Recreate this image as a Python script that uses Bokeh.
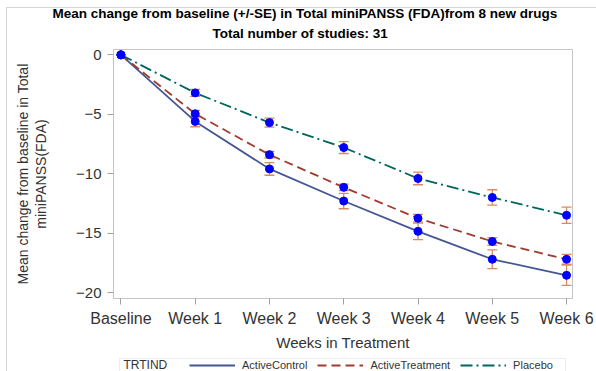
from bokeh.plotting import figure
from bokeh.layouts import column
from bokeh.models import (ColumnDataSource, Whisker, TeeHead, FixedTicker, Legend, LegendItem,
                          Title, Label, BoxAnnotation, LinearAxis, InlineStyleSheet)
from bokeh.embed import file_html
from bokeh.resources import INLINE

weeks = ["Baseline", "Week 1", "Week 2", "Week 3", "Week 4", "Week 5", "Week 6"]
week_num = [0, 1, 2, 3, 4, 5, 6]

active_control = [0.0, -5.6, -9.6, -12.3, -14.85, -17.2, -18.55]
active_control_se = [0.0, 0.45, 0.53, 0.65, 0.7, 0.79, 0.85]

active_treatment = [0.0, -4.96, -8.4, -11.15, -13.75, -15.7, -17.2]
active_treatment_se = [0.0, 0.28, 0.28, 0.28, 0.33, 0.33, 0.42]

placebo = [0.0, -3.2, -5.7, -7.8, -10.4, -12.0, -13.5]
placebo_se = [0.0, 0.3, 0.38, 0.5, 0.53, 0.65, 0.68]

series = [
    ("ActiveControl", active_control, active_control_se, "#445694", "solid"),
    ("ActiveTreatment", active_treatment, active_treatment_se, "#A23A2E", "9 5"),
    ("Placebo", placebo, placebo_se, "#01665E", "12 4 2 4"),
]

FONT = "Liberation Sans"
ERR = "#D88A62"
GRAY = "#c4c4c4"

X0, X1 = -0.1, 6.08
Y0, Y1 = -20.5, 0.45

p = figure(width=596, height=355, output_backend="svg", toolbar_location=None,
           x_range=(X0, X1), y_range=(Y0, Y1),
           min_border_left=113, min_border_right=24, min_border_top=49, min_border_bottom=57)
p.background_fill_color = "white"
p.border_fill_color = "white"
p.outline_line_color = GRAY
p.xgrid.visible = False
p.ygrid.visible = False

# titles
p.title.text = "Mean change from baseline (+/-SE) in Total miniPANSS (FDA)from 8 new drugs"
p.title.align = "left"
p.title.offset = -61
p.title.text_font = FONT
p.title.text_font_size = "13.5px"
p.title.text_font_style = "bold"
p.title.text_color = "#000000"
p.title.standoff = -11
t2 = Title(text="Total number of studies: 31",
           align="left", offset=99, text_font=FONT, text_font_size="13.5px",
           text_font_style="bold", text_color="#000000", standoff=17)
p.add_layout(t2, "above")

for name, vals, se, color, dash in series:
    src = ColumnDataSource(dict(x=week_num, y=vals))
    p.line("x", "y", source=src, line_color=color, line_width=1.8, line_dash=dash)
    n = len(vals)
    esrc = ColumnDataSource(dict(
        x=week_num[1:],
        upper=[vals[i] + se[i] for i in range(1, n)],
        lower=[vals[i] - se[i] for i in range(1, n)],
    ))
    w = Whisker(base="x", upper="upper", lower="lower", source=esrc,
                line_color=ERR, line_width=1.3,
                upper_head=TeeHead(size=10, line_color=ERR, line_width=1.3),
                lower_head=TeeHead(size=10, line_color=ERR, line_width=1.3))
    p.add_layout(w)

for name, vals, se, color, dash in series:
    p.scatter(week_num, vals, size=8, fill_color="#0000FF", line_color="#0000FF")

# axes
p.xaxis.ticker = FixedTicker(ticks=week_num)
p.xaxis.major_label_overrides = {i: lab for i, lab in zip(week_num, weeks)}
p.yaxis.ticker = FixedTicker(ticks=[-20, -15, -10, -5, 0])
for ax in (p.xaxis[0], p.yaxis[0]):
    ax.axis_line_color = GRAY
    ax.major_tick_line_color = "#a0a0a0"
    ax.major_tick_out = 6
    ax.major_tick_in = 0
    ax.minor_tick_line_color = None
    ax.major_label_text_font = FONT
    ax.major_label_text_color = "#333333"
    ax.axis_label_text_font = FONT
    ax.axis_label_text_font_style = "normal"
    ax.axis_label_text_color = "#333333"

p.xaxis.major_label_text_font_size = "16px"
p.xaxis.major_label_standoff = 5
p.xaxis.axis_label = "Weeks in Treatment"
p.xaxis.axis_label_text_font_size = "15px"
p.xaxis.axis_label_standoff = 4

p.yaxis.major_label_text_font_size = "15px"
p.yaxis.major_label_standoff = 6
p.yaxis.axis_label = "miniPANSS(FDA)"
p.yaxis.axis_label_text_font_size = "14px"
p.yaxis.axis_label_standoff = 24

# outer line of the y axis title
ax2 = LinearAxis(ticker=FixedTicker(ticks=[]), axis_label="Mean change from baseline in Total",
                 axis_line_color=None, major_tick_line_color=None, minor_tick_line_color=None,
                 major_tick_out=0, major_tick_in=0, major_label_text_font_size="0px",
                 major_label_standoff=0, axis_label_standoff=0,
                 axis_label_text_font=FONT, axis_label_text_font_size="14px",
                 axis_label_text_font_style="normal", axis_label_text_color="#333333")
p.add_layout(ax2, "left")

# legend strip (frame aligned with the main plot; data units = pixels)
q = figure(width=596, height=16, output_backend="svg", toolbar_location=None,
           x_range=(113, 572), y_range=(0, 16), x_axis_location=None, y_axis_location=None,
           min_border_left=113, min_border_right=24, min_border_top=0, min_border_bottom=0)
q.outline_line_color = None
q.xgrid.visible = False
q.ygrid.visible = False
q.background_fill_color = "white"
q.border_fill_color = "white"

items = []
for name, vals, se, color, dash in series:
    r = q.line(week_num, vals, line_color=color, line_width=1.8, line_dash=dash)
    items.append(LegendItem(label=name, renderers=[r]))

legend = Legend(items=items, orientation="horizontal", location=(76, 0))
legend.label_text_font = FONT
legend.label_text_font_size = "11px"
legend.label_text_color = "#333333"
legend.glyph_width = 46
legend.glyph_height = 12
legend.label_height = 12
legend.label_standoff = 7
legend.spacing = 10
legend.padding = 0
legend.margin = 0
legend.border_line_alpha = 0
legend.background_fill_alpha = 0
q.add_layout(legend)

box = BoxAnnotation(left=119, right=565, top=13, bottom=-5,
                    fill_alpha=0, line_color=GRAY, line_width=1)
q.add_layout(box)
trt = Label(x=123, y=6.5, text="TRTIND", text_font=FONT,
            text_font_size="12px", text_color="#333333", text_baseline="middle")
q.add_layout(trt)

# faint outer border of the whole graphic
outer = InlineStyleSheet(css=""":host::after { content: ""; position: absolute; left: 6px; top: 7px;
  right: 0px; bottom: 0px; border-left: 1px solid #d4d4d4; border-top: 1px solid #d4d4d4;
  pointer-events: none; z-index: 10; }""")

layout = column(p, q, spacing=0, stylesheets=[outer])
open("out.html", "w").write(file_html(layout, INLINE))
